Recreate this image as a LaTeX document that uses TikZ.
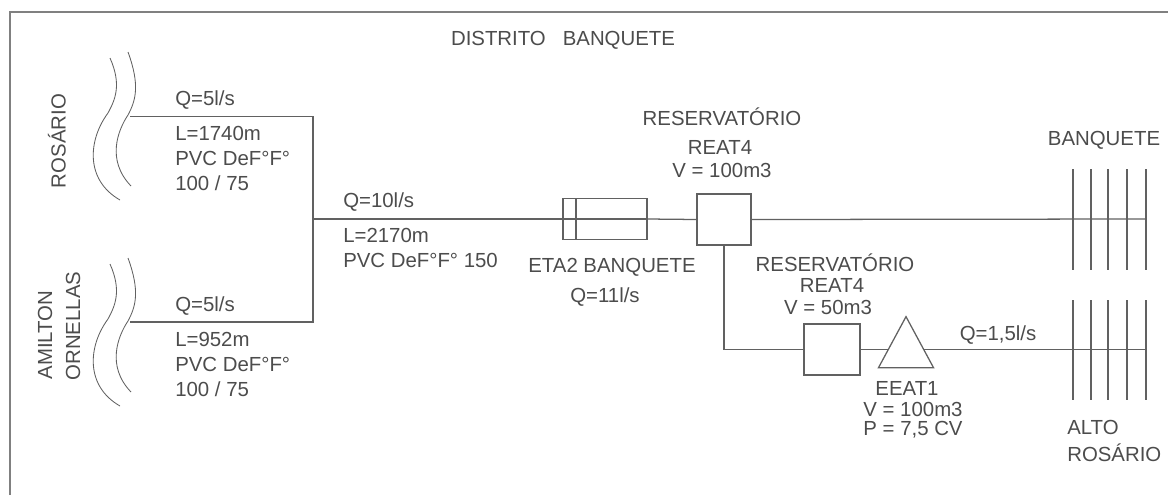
\documentclass[tikz,border=0pt]{standalone}
\usepackage{fontspec}
\setmainfont{Liberation Sans}
\usetikzlibrary{shapes.geometric}
\definecolor{linegray}{gray}{0.38}
\definecolor{textgray}{gray}{0.3}
\tikzset{
    pipe/.style={draw=linegray, line width=0.9pt},
    wave/.style={draw=linegray, line width=0.6pt},
    unitbox/.style={draw=linegray, line width=0.9pt, fill=white, inner sep=0pt},
    lbl/.style={text=textgray, font=\fontsize{14.5}{16}\selectfont, inner sep=0pt, align=left},
    lblc/.style={text=textgray, font=\fontsize{14.5}{16}\selectfont, inner sep=0pt, align=center}
}
\begin{document}
\begin{tikzpicture}[x=0.025cm, y=-0.025cm]
\useasboundingbox (0,0) rectangle (1168,495);
\draw [draw=gray, line width=1.4pt] (10,495) -- (10,12) -- (1168,12);

\node[lblc] (titulo) at (563,40) {DISTRITO\ \ \ BANQUETE};

% mananciais
\draw [wave] (128,52) .. controls (140,85) and (136,100) .. (128,115) .. controls (118,130) and (106,160) .. (131,186);
\draw [wave] (110,58) .. controls (122,85) and (115,100) .. (108,113) .. controls (88,140) and (85,180) .. (120,200);
\draw [wave] (128,258) .. controls (140,291) and (136,306) .. (128,321) .. controls (118,336) and (106,366) .. (131,392);
\draw [wave] (110,264) .. controls (122,291) and (115,306) .. (108,319) .. controls (88,346) and (85,386) .. (120,406);
\node[lblc, rotate=90] (rosario) at (57,141) {ROSÁRIO};
\node[lblc, rotate=90] (amilton) at (45,335) {AMILTON};
\node[lblc, rotate=90] (ornellas) at (73,326) {ORNELLAS};

% unidades
\node[unitbox, minimum width=84*0.025cm, minimum height=41*0.025cm] (eta) at (605,219) {};
\node[unitbox, minimum width=54*0.025cm, minimum height=51*0.025cm] (reatA) at (724,219.5) {};
\node[unitbox, minimum width=56*0.025cm, minimum height=51*0.025cm] (reatB) at (832,349.5) {};
\node[draw=linegray, line width=0.9pt, isosceles triangle, isosceles triangle stretches, shape border rotate=90, inner sep=0pt, minimum width=55*0.025cm, minimum height=51*0.025cm, anchor=apex] (eeat) at (906,315) {};
\coordinate (rosA) at (130,116.5);
\coordinate (amiA) at (130,322);
\coordinate (jun) at (313,219);
\coordinate (juntop) at (313,116.5);
\coordinate (junbot) at (313,322);
\coordinate (barN) at (576,198);
\coordinate (barS) at (576,239);
\coordinate (eeatin) at (888,349.5);
\coordinate (eeatout) at (924,349.5);
\coordinate (redeA) at (1146,219);
\coordinate (redeB) at (1146,349.5);

% linhas
\draw [pipe] (rosA) -- (juntop) -- (junbot) -- (amiA);
\draw [pipe] (jun) -- (eta.west);
\draw [pipe] (eta.west) -- (eta.east);
\draw [pipe] (barN) -- (barS);
\draw [pipe] (eta.east) -- (reatA.west);
\draw [pipe] (reatA.east) -- (redeA);
\draw [pipe] (reatA.south) |- (reatB.west);
\draw [pipe] (reatB.east) -- (eeatin);
\draw [pipe] (eeatout) -- (redeB);

% redes
\foreach \xpos in {1073,1091,1108,1127,1146} {
    \draw [pipe] (\xpos,169) -- (\xpos,270);
    \draw [pipe] (\xpos,300) -- (\xpos,400);
}

% textos
\node[lbl, anchor=west] (q1) at (175,100) {Q=5l/s};
\node[lbl, anchor=north west] (d1) at (175,126) {L=1740m\\[1.7pt]PVC DeF°F°\\[1.7pt]100 / 75};
\node[lbl, anchor=west] (q2) at (175,306) {Q=5l/s};
\node[lbl, anchor=north west] (d2) at (175,332) {L=952m\\[1.7pt]PVC DeF°F°\\[1.7pt]100 / 75};
\node[lbl, anchor=west] (q3) at (343,202) {Q=10l/s};
\node[lbl, anchor=north west] (d3) at (343,228) {L=2170m\\[1.7pt]PVC DeF°F° 150};
\node[lblc] (etaname) at (612,267) {ETA2 BANQUETE};
\node[lblc] (etaq) at (605,297) {Q=11l/s};
\node[lblc] (resA) at (722,117) {RESERVATÓRIO};
\node[lblc] (reatAname) at (720,147) {REAT4};
\node[lblc] (reatAv) at (722,170) {V = 100m3};
\node[lblc] (resB) at (835,263) {RESERVATÓRIO};
\node[lblc] (reatBname) at (832,285) {REAT4};
\node[lblc] (reatBv) at (828,307) {V = 50m3};
\node[lblc] (q4) at (998,335) {Q=1,5l/s};
\node[lblc] (eeatname) at (907,388) {EEAT1};
\node[lblc] (eeatv) at (913,409) {V = 100m3};
\node[lblc] (eeatp) at (913,430) {P = 7,5 CV};
\node[lblc] (banq) at (1104,140) {BANQUETE};
\node[lbl, anchor=west] (alto) at (1067,427) {ALTO};
\node[lbl, anchor=west] (rosb) at (1067,453) {ROSÁRIO};
\end{tikzpicture}
\end{document}
